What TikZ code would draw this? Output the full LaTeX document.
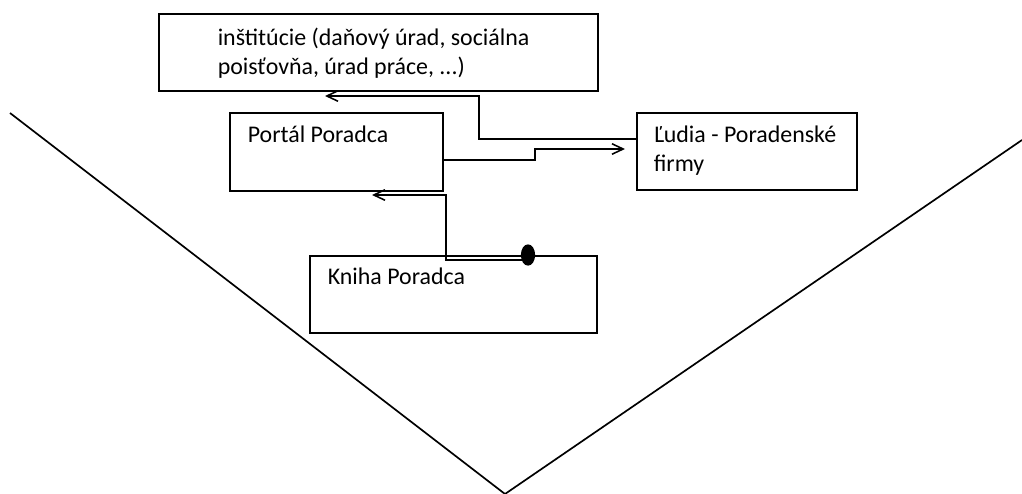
\documentclass[tikz,border=0pt]{standalone}
\usepackage{fontspec}
\setmainfont{Carlito}
\usetikzlibrary{shapes,arrows,arrows.meta}
\usetikzlibrary{positioning,calc}

\begin{document}
\begin{tikzpicture}[x=0.025cm, y=-0.025cm, line width=1.1pt, >={Straight Barb[length=8pt,width=7.5pt]}]

%local definitions
\tikzstyle{Block} = [draw, rectangle, inner sep=0pt, minimum height=1.925cm]
\tikzstyle{BlockText} = [anchor=base west, align=left, inner sep=0pt, font=\fontsize{17}{20.4}\selectfont]
\tikzstyle{Dot} = [draw, fill=black, ellipse, inner sep=0pt, minimum width=9pt, minimum height=14pt]

\useasboundingbox (0,0) rectangle (1022,494);

%the V
	\coordinate (vLeft) at (10,113);
	\coordinate (vBottom) at (505,494);
	\coordinate (vRight) at (1022,140);
	\draw [line width=1.2pt] (vLeft) -- (vBottom) -- (vRight);

%main boxes
	\node [Block, minimum width=10.975cm] (inst) at (378.5,52.5) {};
	\node [Block, minimum width=5.325cm, minimum height=1.95cm] (portal) at (336.5,152) {};
	\node [Block, minimum width=5.5cm] (ludia) at (747,151.5) {};
	\node [Block, minimum width=7.175cm] (kniha) at (453.5,294.5) {};

	%base of a two-line text is its last line
	\node [BlockText] (instText) at (217,74) {inštitúcie (daňový úrad, sociálna\\poisťovňa, úrad práce, ...)};
	\node [BlockText] (portalText) at (247,142) {Portál Poradca};
	\node [BlockText] (ludiaText) at (653,171) {Ľudia - Poradenské\\firmy};
	\node [BlockText] (knihaText) at (327,284) {Kniha Poradca};

%connections
	\coordinate (instIn) at (325,96);
	\coordinate (ludiaIn) at (625,149);
	\coordinate (portalIn) at (372,195);
	\node [Dot] (dot) at (528,255) {};

	\draw [->] (ludia.west |- 0,139) -| (479,96) -- (instIn);
	\draw [->] (portal.east |- 0,160) -| (535,149) -- (ludiaIn);
	\draw [->] (dot |- 0,260) -| (446,195) -- (portalIn);

\end{tikzpicture}
\end{document}
